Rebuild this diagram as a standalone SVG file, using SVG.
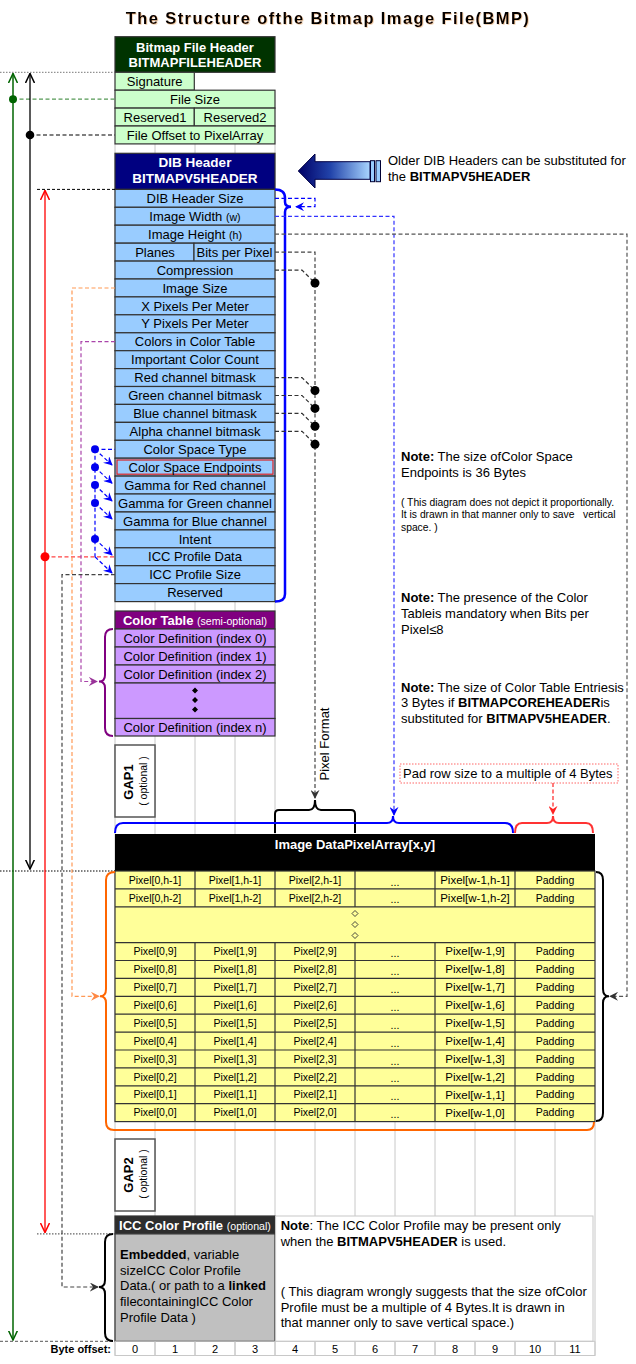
<svg xmlns="http://www.w3.org/2000/svg" width="636" height="1364" viewBox="0 0 636 1364">
<style>
text{font-family:"Liberation Sans",Arial,sans-serif;font-size:13px;fill:#000}
.c{text-anchor:middle}
.e{text-anchor:end}
.b{font-weight:bold}
.w{fill:#fff}
.cell{stroke:#333;stroke-width:1.2}
.fh{fill:#ccffcc}
.dib{fill:#99ccff}
.ct{fill:#cc99ff}
.grid{stroke:#c8c8c8;stroke-width:1}
.px{font-size:10.5px}
.pw{font-size:11.5px}
.sm{font-size:10.6px}
.tiny{font-size:10.3px}
.gap{fill:#fff;stroke:#555;stroke-width:1.5}
.d{fill:none;stroke-dasharray:4 2.5;stroke-width:1.2}
.brace{fill:none;stroke-width:2}
</style>
<defs>
<filter id="sh" x="-5%" y="-20%" width="110%" height="140%"><feDropShadow dx="0.8" dy="0.8" stdDeviation="0.4" flood-color="#cc6600" flood-opacity="0.35"/></filter>
<linearGradient id="gA" x1="0" x2="1" y1="0" y2="0"><stop offset="0" stop-color="#000066"/><stop offset="0.45" stop-color="#2244aa"/><stop offset="1" stop-color="#a8d4ff"/></linearGradient>
<marker id="aB" viewBox="0 0 10 10" refX="9" refY="5" markerWidth="9" markerHeight="9" markerUnits="userSpaceOnUse" orient="auto"><path d="M0,0 L10,5 L0,10 L3.5,5 Z" fill="#0000ff"/></marker>
<marker id="aK" viewBox="0 0 10 10" refX="9" refY="5" markerWidth="9" markerHeight="9" markerUnits="userSpaceOnUse" orient="auto"><path d="M0,0 L10,5 L0,10 L3.5,5 Z" fill="#333"/></marker>
<marker id="aR" viewBox="0 0 10 10" refX="9" refY="5" markerWidth="9" markerHeight="9" markerUnits="userSpaceOnUse" orient="auto"><path d="M0,0 L10,5 L0,10 L3.5,5 Z" fill="#ff2222"/></marker>
<marker id="aO" viewBox="0 0 10 10" refX="9" refY="5" markerWidth="9" markerHeight="9" markerUnits="userSpaceOnUse" orient="auto"><path d="M0,0 L10,5 L0,10 L3.5,5 Z" fill="#ff8844"/></marker>
<marker id="aP" viewBox="0 0 10 10" refX="9" refY="5" markerWidth="9" markerHeight="9" markerUnits="userSpaceOnUse" orient="auto"><path d="M0,0 L10,5 L0,10 L3.5,5 Z" fill="#993399"/></marker>
<marker id="cG" viewBox="0 0 10 10" refX="9.5" refY="5" markerWidth="10" markerHeight="10" markerUnits="userSpaceOnUse" orient="auto-start-reverse"><path d="M0,0.5 L9.5,5 L0,9.5" fill="none" stroke="#006400" stroke-width="1.5"/></marker>
<marker id="cK" viewBox="0 0 10 10" refX="9.5" refY="5" markerWidth="10" markerHeight="10" markerUnits="userSpaceOnUse" orient="auto-start-reverse"><path d="M0,0.5 L9.5,5 L0,9.5" fill="none" stroke="#000" stroke-width="1.5"/></marker>
<marker id="cR" viewBox="0 0 10 10" refX="9.5" refY="5" markerWidth="10" markerHeight="10" markerUnits="userSpaceOnUse" orient="auto-start-reverse"><path d="M0,0.5 L9.5,5 L0,9.5" fill="none" stroke="#ff0000" stroke-width="1.5"/></marker>
</defs>
<rect width="636" height="1364" fill="#fff"/>

<g id="gridlines" class="grid">
<path d="M115,144V1356M155,144V1356M195,144V1356M235,144V1356M275,144V1356M315,1121V1356M355,1121V1356M395,1121V1356M435,1121V1356M475,1121V1356M515,1121V1356M555,1121V1356M595,1121V1356"/>
</g>

<text id="title" x="328" y="24" class="c b" style="font-size:16.5px;letter-spacing:1.4px" filter="url(#sh)">The Structure ofthe Bitmap Image File(BMP)</text>

<g id="file-header">
<rect x="115" y="36.7" width="160" height="35.6" fill="#003300" class="cell"/>
<text x="195" y="52" class="c b w">Bitmap File Header</text>
<text x="195" y="67.2" class="c b w">BITMAPFILEHEADER</text>
<rect x="115" y="72.3" width="79.3" height="17.9" class="cell fh"/>
<text x="154.7" y="85.8" class="c">Signature</text>
<rect x="115" y="90.2" width="160" height="17.9" class="cell fh"/>
<text x="195" y="103.7" class="c">File Size</text>
<rect x="115" y="108.1" width="79.3" height="17.9" class="cell fh"/>
<rect x="194.3" y="108.1" width="80.7" height="17.9" class="cell fh"/>
<text x="155" y="121.6" class="c">Reserved1</text>
<text x="235" y="121.6" class="c">Reserved2</text>
<rect x="115" y="126" width="160" height="17.9" class="cell fh"/>
<text x="195" y="139.5" class="c">File Offset to PixelArray</text>
</g>

<g id="older-dib-note">
<polygon points="298.3,171 315,154 315,161.7 370,161.7 370,179.3 315,179.3 315,188" fill="url(#gA)" stroke="#000044" stroke-width="1"/>
<rect x="370.5" y="160.7" width="4" height="21" fill="#99ccff" stroke="#000033" stroke-width="1"/>
<rect x="376" y="160.7" width="4.5" height="21" fill="#99ccff" stroke="#000033" stroke-width="1"/>
<text x="388" y="165.2">Older DIB Headers can be substituted for</text>
<text x="388" y="180.6">the <tspan class="b">BITMAPV5HEADER</tspan></text>
</g>

<g id="dib-header">
<rect x="115" y="153.3" width="160" height="36.1" fill="#000080" class="cell"/>
<text x="195" y="166.5" class="c b w" style="font-size:13.5px">DIB Header</text>
<text x="195" y="182.5" class="c b w" style="font-size:13.5px">BITMAPV5HEADER</text>
<rect x="115" y="189.4" width="160" height="17.92" class="cell dib"/>
<text x="195" y="203" class="c">DIB Header Size</text>
<rect x="115" y="207.3" width="160" height="17.92" class="cell dib"/>
<text x="195" y="220.9" class="c">Image Width <tspan class="sm">(w)</tspan></text>
<rect x="115" y="225.2" width="160" height="17.92" class="cell dib"/>
<text x="195" y="238.8" class="c">Image Height <tspan class="sm">(h)</tspan></text>
<rect x="115" y="243.2" width="79" height="17.92" class="cell dib"/>
<rect x="194" y="243.2" width="81" height="17.92" class="cell dib"/>
<text x="155" y="256.7" class="c">Planes</text>
<text x="234.5" y="256.7" class="c">Bits per Pixel</text>
<rect x="115" y="261.1" width="160" height="17.92" class="cell dib"/>
<text x="195" y="274.7" class="c">Compression</text>
<rect x="115" y="279" width="160" height="17.92" class="cell dib"/>
<text x="195" y="292.6" class="c">Image Size</text>
<rect x="115" y="296.9" width="160" height="17.92" class="cell dib"/>
<text x="195" y="310.5" class="c">X Pixels Per Meter</text>
<rect x="115" y="314.8" width="160" height="17.92" class="cell dib"/>
<text x="195" y="328.4" class="c">Y Pixels Per Meter</text>
<rect x="115" y="332.8" width="160" height="17.92" class="cell dib"/>
<text x="195" y="346.3" class="c">Colors in Color Table</text>
<rect x="115" y="350.7" width="160" height="17.92" class="cell dib"/>
<text x="195" y="364.3" class="c">Important Color Count</text>
<rect x="115" y="368.6" width="160" height="17.92" class="cell dib"/>
<text x="195" y="382.2" class="c">Red channel bitmask</text>
<rect x="115" y="386.5" width="160" height="17.92" class="cell dib"/>
<text x="195" y="400.1" class="c">Green channel bitmask</text>
<rect x="115" y="404.4" width="160" height="17.92" class="cell dib"/>
<text x="195" y="418" class="c">Blue channel bitmask</text>
<rect x="115" y="422.4" width="160" height="17.92" class="cell dib"/>
<text x="195" y="435.9" class="c">Alpha channel bitmask</text>
<rect x="115" y="440.3" width="160" height="17.92" class="cell dib"/>
<text x="195" y="453.9" class="c">Color Space Type</text>
<rect x="115" y="458.2" width="160" height="17.92" class="cell dib"/>
<rect x="117" y="460" width="156" height="14.2" fill="none" stroke="#dd2222" stroke-width="1.2"/>
<text x="195" y="471.8" class="c">Color Space Endpoints</text>
<rect x="115" y="476.1" width="160" height="17.92" class="cell dib"/>
<text x="195" y="489.7" class="c">Gamma for Red channel</text>
<rect x="115" y="494" width="160" height="17.92" class="cell dib"/>
<text x="195" y="507.6" class="c">Gamma for Green channel</text>
<rect x="115" y="512" width="160" height="17.92" class="cell dib"/>
<text x="195" y="525.5" class="c">Gamma for Blue channel</text>
<rect x="115" y="529.9" width="160" height="17.92" class="cell dib"/>
<text x="195" y="543.5" class="c">Intent</text>
<rect x="115" y="547.8" width="160" height="17.92" class="cell dib"/>
<text x="195" y="561.4" class="c">ICC Profile Data</text>
<rect x="115" y="565.7" width="160" height="17.92" class="cell dib"/>
<text x="195" y="579.3" class="c">ICC Profile Size</text>
<rect x="115" y="583.6" width="160" height="18" class="cell dib"/>
<text x="195" y="597.2" class="c">Reserved</text>
</g>

<g id="color-table">
<rect x="115" y="611" width="160" height="18" fill="#800080" class="cell"/>
<text x="195" y="624.6" class="c b w">Color Table <tspan class="sm" style="font-weight:normal">(semi-optional)</tspan></text>
<rect x="115" y="629" width="160" height="18" class="cell ct"/>
<text x="195" y="642.6" class="c">Color Definition (index 0)</text>
<rect x="115" y="647" width="160" height="18" class="cell ct"/>
<text x="195" y="660.6" class="c">Color Definition (index 1)</text>
<rect x="115" y="665" width="160" height="18" class="cell ct"/>
<text x="195" y="678.6" class="c">Color Definition (index 2)</text>
<rect x="115" y="683" width="160" height="35.5" class="cell ct"/>
<path d="M195,687.5L198,690.5L195,693.5L192,690.5ZM195,697L198,700L195,703L192,700ZM195,706.5L198,709.5L195,712.5L192,709.5Z" fill="#000"/>
<rect x="115" y="718.5" width="160" height="17.5" class="cell ct"/>
<text x="195" y="731.8" class="c">Color Definition (index n)</text>
</g>

<g id="gap1">
<rect x="115" y="745" width="40" height="72" class="gap"/>
<text transform="translate(133,782) rotate(-90)" class="c b">GAP1</text>
<text transform="translate(146.5,781) rotate(-90)" class="c" style="font-size:10.5px">( optional )</text>
</g>

<g id="notes">
<text x="401" y="461.3"><tspan class="b">Note:</tspan> The size ofColor Space</text>
<text x="401" y="476.5">Endpoints is 36 Bytes</text>
<text x="401" y="505.6" class="tiny">( This diagram does not depict it proportionally.</text>
<text x="401" y="518" class="tiny" xml:space="preserve">It is drawn in that manner only to save   vertical</text>
<text x="401" y="531" class="tiny">space. )</text>
<text x="401" y="601.9"><tspan class="b">Note:</tspan> The presence of the Color</text>
<text x="401" y="617.9">Tableis mandatory when Bits per</text>
<text x="401" y="633.9">Pixel≤8</text>
<text x="401" y="691.9"><tspan class="b">Note:</tspan> The size of Color Table Entriesis</text>
<text x="401" y="707.3">3 Bytes if <tspan class="b">BITMAPCOREHEADER</tspan>is</text>
<text x="401" y="722.9">substituted for <tspan class="b">BITMAPV5HEADER</tspan>.</text>
</g>

<g id="pad-note">
<rect x="400" y="764" width="218" height="19" fill="#fff" stroke="#ff6666" stroke-width="1" stroke-dasharray="1.5 1.5"/>
<text x="403" y="778">Pad row size to a multiple of 4 Bytes</text>
</g>

<text id="pixel-format-label" transform="translate(328.6,744) rotate(-90)" class="c">Pixel Format</text>

<g id="pixel-array">
<rect x="115" y="834" width="480" height="37" fill="#000"/>
<text x="355" y="849" class="c b w">Image DataPixelArray[x,y]</text>
<rect x="115" y="871" width="480" height="250.6" fill="#ffff99" class="cell"/>
<path class="cell" fill="none" d="M115,888.9H595M115,906.8H595M115,942.6H595M115,960.5H595M115,978.4H595M115,996.3H595M115,1014.2H595M115,1032.1H595M115,1050H595M115,1067.9H595M115,1085.8H595M115,1103.7H595M195,871V906.8M275,871V906.8M355,871V906.8M435,871V906.8M515,871V906.8M195,942.6V1121.6M275,942.6V1121.6M355,942.6V1121.6M435,942.6V1121.6M515,942.6V1121.6"/>
<path d="M355,910.5L358,913.5L355,916.5L352,913.5ZM355,921.5L358,924.5L355,927.5L352,924.5ZM355,932.5L358,935.5L355,938.5L352,935.5Z" fill="none" stroke="#333" stroke-width="0.9"/>
<g class="px">
<text x="155" y="883.6" class="c px">Pixel[0,h-1]</text><text x="235" y="883.6" class="c px">Pixel[1,h-1]</text><text x="315" y="883.6" class="c px">Pixel[2,h-1]</text><text x="395" y="885.5" class="c px">...</text><text x="475" y="883.8" class="c pw">Pixel[w-1,h-1]</text><text x="555" y="883.6" class="c px">Padding</text>
<text x="155" y="901.5" class="c px">Pixel[0,h-2]</text><text x="235" y="901.5" class="c px">Pixel[1,h-2]</text><text x="315" y="901.5" class="c px">Pixel[2,h-2]</text><text x="395" y="903.4" class="c px">...</text><text x="475" y="901.7" class="c pw">Pixel[w-1,h-2]</text><text x="555" y="901.5" class="c px">Padding</text>
<text x="155" y="955.2" class="c px">Pixel[0,9]</text><text x="235" y="955.2" class="c px">Pixel[1,9]</text><text x="315" y="955.2" class="c px">Pixel[2,9]</text><text x="395" y="957.1" class="c px">...</text><text x="475" y="955.4" class="c pw">Pixel[w-1,9]</text><text x="555" y="955.2" class="c px">Padding</text>
<text x="155" y="973.1" class="c px">Pixel[0,8]</text><text x="235" y="973.1" class="c px">Pixel[1,8]</text><text x="315" y="973.1" class="c px">Pixel[2,8]</text><text x="395" y="975" class="c px">...</text><text x="475" y="973.3" class="c pw">Pixel[w-1,8]</text><text x="555" y="973.1" class="c px">Padding</text>
<text x="155" y="991" class="c px">Pixel[0,7]</text><text x="235" y="991" class="c px">Pixel[1,7]</text><text x="315" y="991" class="c px">Pixel[2,7]</text><text x="395" y="992.9" class="c px">...</text><text x="475" y="991.2" class="c pw">Pixel[w-1,7]</text><text x="555" y="991" class="c px">Padding</text>
<text x="155" y="1008.9" class="c px">Pixel[0,6]</text><text x="235" y="1008.9" class="c px">Pixel[1,6]</text><text x="315" y="1008.9" class="c px">Pixel[2,6]</text><text x="395" y="1010.8" class="c px">...</text><text x="475" y="1009.1" class="c pw">Pixel[w-1,6]</text><text x="555" y="1008.9" class="c px">Padding</text>
<text x="155" y="1026.8" class="c px">Pixel[0,5]</text><text x="235" y="1026.8" class="c px">Pixel[1,5]</text><text x="315" y="1026.8" class="c px">Pixel[2,5]</text><text x="395" y="1028.7" class="c px">...</text><text x="475" y="1027" class="c pw">Pixel[w-1,5]</text><text x="555" y="1026.8" class="c px">Padding</text>
<text x="155" y="1044.7" class="c px">Pixel[0,4]</text><text x="235" y="1044.7" class="c px">Pixel[1,4]</text><text x="315" y="1044.7" class="c px">Pixel[2,4]</text><text x="395" y="1046.6" class="c px">...</text><text x="475" y="1044.9" class="c pw">Pixel[w-1,4]</text><text x="555" y="1044.7" class="c px">Padding</text>
<text x="155" y="1062.6" class="c px">Pixel[0,3]</text><text x="235" y="1062.6" class="c px">Pixel[1,3]</text><text x="315" y="1062.6" class="c px">Pixel[2,3]</text><text x="395" y="1064.5" class="c px">...</text><text x="475" y="1062.8" class="c pw">Pixel[w-1,3]</text><text x="555" y="1062.6" class="c px">Padding</text>
<text x="155" y="1080.5" class="c px">Pixel[0,2]</text><text x="235" y="1080.5" class="c px">Pixel[1,2]</text><text x="315" y="1080.5" class="c px">Pixel[2,2]</text><text x="395" y="1082.4" class="c px">...</text><text x="475" y="1080.7" class="c pw">Pixel[w-1,2]</text><text x="555" y="1080.5" class="c px">Padding</text>
<text x="155" y="1098.4" class="c px">Pixel[0,1]</text><text x="235" y="1098.4" class="c px">Pixel[1,1]</text><text x="315" y="1098.4" class="c px">Pixel[2,1]</text><text x="395" y="1100.3" class="c px">...</text><text x="475" y="1098.6" class="c pw">Pixel[w-1,1]</text><text x="555" y="1098.4" class="c px">Padding</text>
<text x="155" y="1116.3" class="c px">Pixel[0,0]</text><text x="235" y="1116.3" class="c px">Pixel[1,0]</text><text x="315" y="1116.3" class="c px">Pixel[2,0]</text><text x="395" y="1118.2" class="c px">...</text><text x="475" y="1116.5" class="c pw">Pixel[w-1,0]</text><text x="555" y="1116.3" class="c px">Padding</text>
</g>
</g>

<g id="gap2">
<rect x="115" y="1139" width="40" height="72" class="gap"/>
<text transform="translate(133,1175) rotate(-90)" class="c b">GAP2</text>
<text transform="translate(146.5,1174) rotate(-90)" class="c" style="font-size:10.5px">( optional )</text>
</g>

<g id="icc-profile">
<rect x="115" y="1216" width="160" height="17.9" fill="#2d2d2d" class="cell"/>
<text x="195" y="1229.5" class="c b w">ICC Color Profile <tspan class="sm" style="font-weight:normal">(optional)</tspan></text>
<rect x="115" y="1233.9" width="160" height="107.4" fill="#c0c0c0" class="cell"/>
<text x="120" y="1258.9"><tspan class="b">Embedded</tspan>, variable</text>
<text x="120" y="1274.6">sizeICC Color Profile</text>
<text x="120" y="1290.3">Data.( or path to a <tspan class="b">linked</tspan></text>
<text x="120" y="1306.3">filecontainingICC Color</text>
<text x="120" y="1321.6">Profile Data )</text>
</g>

<g id="icc-note">
<rect x="275.6" y="1216" width="317.4" height="125.3" fill="#fff" stroke="#c8c8c8" stroke-width="1"/>
<text x="280.7" y="1229.6"><tspan class="b">Note</tspan>: The ICC Color Profile may be present only</text>
<text x="280.7" y="1245.6">when the <tspan class="b">BITMAPV5HEADER</tspan> is used.</text>
<text x="280.7" y="1296.3">( This diagram wrongly suggests that the size ofColor</text>
<text x="280.7" y="1312.3">Profile must be a multiple of 4 Bytes.It is drawn in</text>
<text x="280.7" y="1327.4">that manner only to save vertical space.)</text>
</g>

<g id="byte-offset">
<path d="M115,1341.3H595V1355.5H115ZM155,1341.3V1355.5M195,1341.3V1355.5M235,1341.3V1355.5M275,1341.3V1355.5M315,1341.3V1355.5M355,1341.3V1355.5M395,1341.3V1355.5M435,1341.3V1355.5M475,1341.3V1355.5M515,1341.3V1355.5M555,1341.3V1355.5" fill="none" stroke="#c8c8c8" stroke-width="1"/>
<text x="111" y="1352.5" class="e b" style="font-size:11px">Byte offset:</text>
<g style="font-size:11px">
<text x="135" y="1353" class="c" style="font-size:11px">0</text><text x="175" y="1353" class="c" style="font-size:11px">1</text><text x="215" y="1353" class="c" style="font-size:11px">2</text><text x="255" y="1353" class="c" style="font-size:11px">3</text><text x="295" y="1353" class="c" style="font-size:11px">4</text><text x="335" y="1353" class="c" style="font-size:11px">5</text><text x="375" y="1353" class="c" style="font-size:11px">6</text><text x="415" y="1353" class="c" style="font-size:11px">7</text><text x="455" y="1353" class="c" style="font-size:11px">8</text><text x="495" y="1353" class="c" style="font-size:11px">9</text><text x="535" y="1353" class="c" style="font-size:11px">10</text><text x="575" y="1353" class="c" style="font-size:11px">11</text>
</g>
</g>

<g id="connectors">
<path d="M0,72.3H115" stroke="#777" stroke-width="1" stroke-dasharray="1.5 1.5" fill="none"/>
<path d="M37,189.4H115" stroke="#000" stroke-width="1" stroke-dasharray="3 2" fill="none"/>
<path d="M0,871H115" stroke="#000" stroke-width="1" stroke-dasharray="1.5 1.5" fill="none"/>
<path d="M37,1233.9H115" stroke="#666" stroke-width="1.2" stroke-dasharray="1.5 1.5" fill="none"/>
<path d="M0,1341.3H115" stroke="#555" stroke-width="1" stroke-dasharray="3 2" fill="none"/>
<line x1="13" y1="73.5" x2="13" y2="1340" stroke="#006400" stroke-width="1.5" marker-start="url(#cG)" marker-end="url(#cG)"/>
<path d="M13,99.2H115" class="d" stroke="#559955" stroke-width="1.5"/>
<circle cx="13" cy="99.2" r="4" fill="#006400"/>
<line x1="30" y1="73.5" x2="30" y2="869" stroke="#000" stroke-width="1.3" marker-start="url(#cK)" marker-end="url(#cK)"/>
<path d="M30,135H115" class="d" stroke="#000"/>
<circle cx="30" cy="135" r="4.3" fill="#000"/>
<line x1="45" y1="190.5" x2="45" y2="1232.5" stroke="#ff0000" stroke-width="1.3" marker-start="url(#cR)" marker-end="url(#cR)"/>
<path d="M45,556.8H115" class="d" stroke="#ff4444" stroke-width="1.5"/>
<circle cx="45" cy="556.8" r="4.5" fill="#ff0000"/>
<path d="M115,288H72V996.3H99" class="d" stroke="#ff9955" stroke-width="1.4" marker-end="url(#aO)"/>
<path d="M115,341.7H81V681.5H97" class="d" stroke="#aa44aa" stroke-width="1.3" marker-end="url(#aP)"/>
<path d="M115,574.7H62V1287H98" class="d" stroke="#444" marker-end="url(#aK)"/>
<path d="M95,449.3H115M95,449.3V556.8" class="d" stroke="#0000ff" stroke-width="1.2"/>
<path d="M95,449.3L112,465" class="d" stroke="#0000ff" marker-end="url(#aB)"/>
<path d="M95,467.2L112,483.2" class="d" stroke="#0000ff" marker-end="url(#aB)"/>
<path d="M95,485.1L112,501" class="d" stroke="#0000ff" marker-end="url(#aB)"/>
<path d="M95,503L112,519" class="d" stroke="#0000ff" marker-end="url(#aB)"/>
<path d="M95,538.9L112,555" class="d" stroke="#0000ff" marker-end="url(#aB)"/>
<path d="M95,556.8L112,573" class="d" stroke="#0000ff" marker-end="url(#aB)"/>
<circle cx="95" cy="449.3" r="4" fill="#0000ee"/>
<circle cx="95" cy="467.2" r="4" fill="#0000ee"/>
<circle cx="95" cy="485.1" r="4" fill="#0000ee"/>
<circle cx="95" cy="503" r="4" fill="#0000ee"/>
<circle cx="95" cy="538.9" r="4" fill="#0000ee"/>
<path d="M275,189.4C282,189.4 285,192 285,198V202C285,205 287,206.7 291,206.7C287,206.7 285,208.5 285,212V594C285,599 282,601.6 275,601.6" fill="none" stroke="#0000ff" stroke-width="2.5"/>
<path d="M275,198.4H315V206.7H296" class="d" stroke="#0000ff" marker-end="url(#aB)"/>
<path d="M275,216.3H394V815" class="d" stroke="#3333ff" marker-end="url(#aB)"/>
<path d="M275,234.2H627V996.3H610" class="d" stroke="#555" marker-end="url(#aK)"/>
<path d="M275,252.1H315V798" class="d" stroke="#444" marker-end="url(#aK)"/>
<path d="M275,270.1H302L315,283M275,377.6H302L315,390.5M275,395.5H302L315,408.4M275,413.4H302L315,426.3M275,431.3H302L315,444.2" class="d" stroke="#333"/>
<circle cx="315" cy="283" r="4.5" fill="#000"/>
<circle cx="315" cy="390.5" r="4.5" fill="#000"/>
<circle cx="315" cy="408.4" r="4.5" fill="#000"/>
<circle cx="315" cy="426.3" r="4.5" fill="#000"/>
<circle cx="315" cy="444.2" r="4.5" fill="#000"/>
<path d="M275,833V814Q275,810 279,810H309Q315,810 315,800Q315,810 321,810H351Q355,810 355,814V833" class="brace" stroke="#000"/>
<path d="M115,833Q115,823 123,823H387Q393,823 393,816Q393,823 399,823H505Q513,823 513,833" class="brace" stroke="#0000ff" stroke-width="2.5"/>
<path d="M515,833Q515,823 522,823H547Q553,823 553,816Q553,823 559,823H586Q593,823 593,833" class="brace" stroke="#ff3333" stroke-width="1.5"/>
<path d="M553,783V814" class="d" stroke="#ff2222" marker-end="url(#aR)"/>
<path d="M115,872Q106,872 106,880V989Q106,996.3 100,996.3Q106,996.3 106,1003V1122Q106,1130 114,1130H587Q594,1130 594,1122" class="brace" stroke="#ff6600"/>
<path d="M596,872Q603,872 603,880V989Q603,996.3 609,996.3Q603,996.3 603,1003V1113Q603,1121 596,1121" class="brace" stroke="#000"/>
<path d="M113,629Q105,629 105,637V675Q105,681.5 99,681.5Q105,681.5 105,688V728Q105,736 113,736" class="brace" stroke="#800080"/>
<path d="M113,1234Q105,1234 105,1242V1280Q105,1287 99,1287Q105,1287 105,1294V1333Q105,1341 113,1341" class="brace" stroke="#000"/>
</g>
</svg>
